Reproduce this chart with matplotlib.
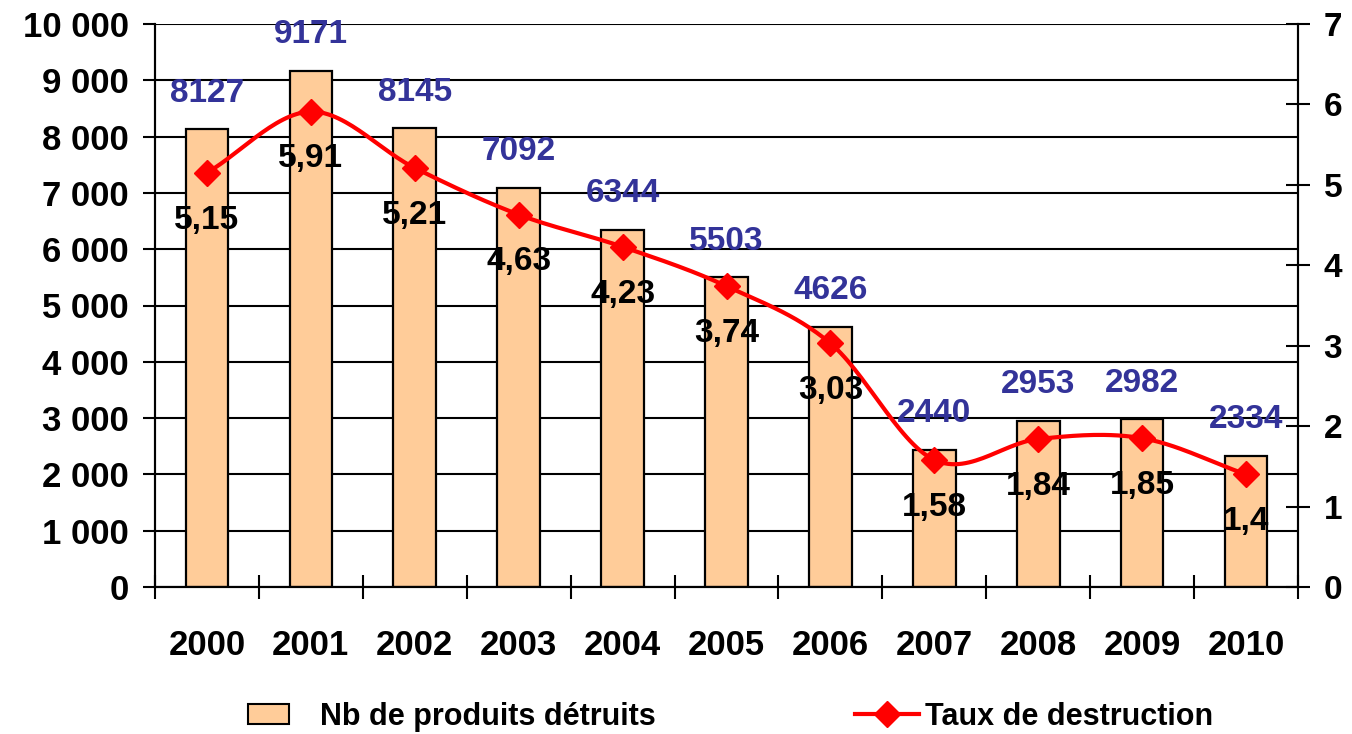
import numpy as np
import matplotlib
matplotlib.use("Agg")
import matplotlib.pyplot as plt
from matplotlib.lines import Line2D
from matplotlib.patches import Patch

years = ["2000", "2001", "2002", "2003", "2004", "2005", "2006", "2007", "2008", "2009", "2010"]
produits = [8127, 9171, 8145, 7092, 6344, 5503, 4626, 2440, 2953, 2982, 2334]
taux = [5.15, 5.91, 5.21, 4.63, 4.23, 3.74, 3.03, 1.58, 1.84, 1.85, 1.4]
taux_labels = ["5,15", "5,91", "5,21", "4,63", "4,23", "3,74", "3,03", "1,58", "1,84", "1,85", "1,4"]
left_ticks = [0, 1000, 2000, 3000, 4000, 5000, 6000, 7000, 8000, 9000, 10000]
left_ticklabels = ["0", "1 000", "2 000", "3 000", "4 000", "5 000", "6 000", "7 000", "8 000", "9 000", "10 000"]
right_ticks = [0, 1, 2, 3, 4, 5, 6, 7]
legend_bar = "Nb de produits détruits"
legend_line = "Taux de destruction"

FONT = ["Liberation Sans", "DejaVu Sans"]
plt.rcParams['font.family'] = FONT
plt.rcParams['font.weight'] = 'bold'

fig = plt.figure(figsize=(13.52, 7.34), dpi=100)
ax = fig.add_axes([155/1352, 1-587/734, (1298-155)/1352, (587-24)/734])
ax2 = ax.twinx()

x = np.arange(len(years))
ax.set_axisbelow(True)
ax.bar(x, produits, width=0.41, color="#FFCC99", edgecolor="black", linewidth=1.6, zorder=2)
ax.set_xlim(-0.5, len(years) - 0.5)
ax.set_ylim(0, 10000)
ax.set_yticks(left_ticks)
ax.set_yticklabels(left_ticklabels, fontsize=25, fontweight='bold')
ax.yaxis.grid(True, color="black", linewidth=1.5, zorder=0)
ax.set_xticks(x)
ax.set_xticklabels(years, fontsize=25, fontweight='bold')
ax.tick_params(axis='x', which='major', length=0, pad=30)
ax.set_xticks(np.arange(-0.5, len(years)), minor=True)
ax.tick_params(axis='x', which='minor', direction='inout', length=17, width=1.5)
ax.tick_params(axis='y', direction='out', length=9, width=1.5, pad=10)
for s in ['top']:
    ax.spines[s].set_visible(False)
    ax2.spines[s].set_visible(False)
for s in ['left', 'bottom', 'right']:
    ax.spines[s].set_linewidth(1.5)
    ax2.spines[s].set_linewidth(1.5)

for xi, v in zip(x, produits):
    ax.annotate(str(v), (xi, v), xytext=(0, 26), textcoords='offset points',
                ha='center', va='center', fontsize=24, fontweight='bold', color="#333399")

# smoothed line (Catmull-Rom through data points)
def catmull_rom(xs, ys, n=30):
    px = np.concatenate([[2*xs[0]-xs[1]], xs, [2*xs[-1]-xs[-2]]])
    py = np.concatenate([[2*ys[0]-ys[1]], ys, [2*ys[-1]-ys[-2]]])
    ox, oy = [], []
    for i in range(1, len(px)-2):
        t = np.linspace(0, 1, n, endpoint=False)
        for arr, out in ((px, ox), (py, oy)):
            p0, p1, p2, p3 = arr[i-1], arr[i], arr[i+1], arr[i+2]
            out.extend(0.5*((2*p1) + (-p0+p2)*t + (2*p0-5*p1+4*p2-p3)*t**2 + (-p0+3*p1-3*p2+p3)*t**3))
    ox.append(xs[-1]); oy.append(ys[-1])
    return np.array(ox), np.array(oy)

sx, sy = catmull_rom(x.astype(float), np.array(taux, dtype=float))
ax2.plot(sx, sy, color="#FF0000", linewidth=3, zorder=3)
ax2.plot(x, taux, linestyle='none', marker='D', markersize=13, color="#FF0000", zorder=4)
ax2.set_ylim(0, 7)
ax2.set_yticks(right_ticks)
ax2.set_yticklabels([str(t) for t in right_ticks], fontsize=24, fontweight='bold')
ax2.tick_params(axis='y', direction='inout', length=17, width=1.5, pad=10)
for xi, v, lab in zip(x, taux, taux_labels):
    ax2.annotate(lab, (xi, v), xytext=(0, -34), textcoords='offset points',
                 ha='center', va='center', fontsize=24, fontweight='bold', color="black", zorder=5)

lprop = {'family': FONT, 'weight': 'bold', 'size': 22}
fig.legend([Patch(facecolor="#FFCC99", edgecolor="black", linewidth=1.5)], [legend_bar],
           loc='center left', bbox_to_anchor=(248/1352, 1-717/734), frameon=False,
           borderpad=0, borderaxespad=0, handlelength=1.35, handleheight=0.65, handletextpad=1.0,
           prop=lprop)
fig.legend([Line2D([0], [0], color="#FF0000", linewidth=3, marker='D', markersize=13)], [legend_line],
           loc='center left', bbox_to_anchor=(855/1352, 1-717/734), frameon=False,
           borderpad=0, borderaxespad=0, handlelength=2.1, handletextpad=0.2,
           prop=lprop)

fig.savefig("out.png", dpi=100)
